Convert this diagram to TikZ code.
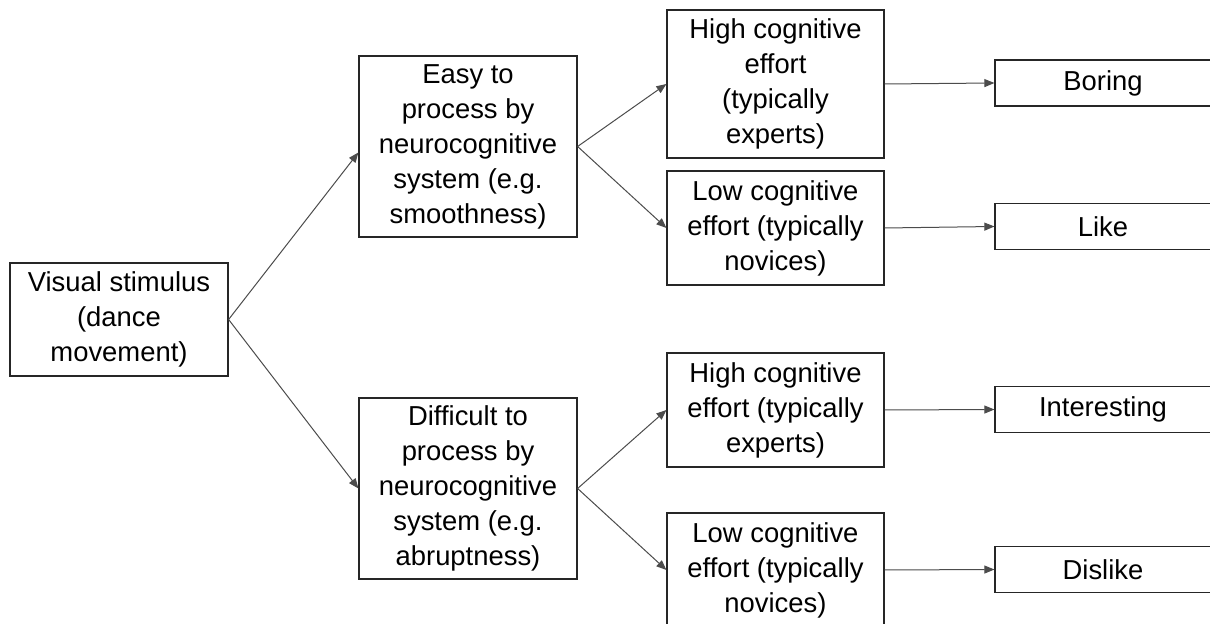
\documentclass[tikz,border=0pt]{standalone}
\usepackage{fontspec}
\setmainfont{Liberation Sans}
\usetikzlibrary{arrows.meta}
\tikzset{
    plain-box/.style = {draw=black!85, fill=white, line width=0.6pt, rectangle, align=center, inner sep=0pt,
        font=\fontsize{13.7}{17.5}\selectfont, minimum width=109pt},
    step-box/.style = {plain-box, minimum width=108.5pt, minimum height=57pt},
    end-box/.style = {plain-box, minimum width=108pt, minimum height=23pt},
    link/.style = {draw=black!70, line width=0.5pt, -{Triangle[length=5pt, width=4pt]}},
}

\begin{document}
\begin{tikzpicture}[x=0.5pt, y=-0.5pt]
\clip (0,0) rectangle (1210,624);
\fill[white] (0,0) rectangle (1210,624);

\node[plain-box, minimum height=56.5pt] (stimulus) at (119,319.5) {Visual stimulus\\(dance\\movement)};

\node[plain-box, minimum height=90.5pt] (easy) at (468,146.5) {Easy to\\process by\\neurocognitive\\system (e.g.\\smoothness)};
\node[plain-box, minimum height=90.5pt] (difficult) at (468,488.5) {Difficult to\\process by\\neurocognitive\\system (e.g.\\abruptness)};

\node[step-box, minimum height=74pt] (high-easy) at (775.5,84) {High cognitive\\effort\\(typically\\experts)};
\node[step-box] (low-easy) at (775.5,228) {Low cognitive\\effort (typically\\novices)};
\node[step-box] (high-diff) at (775.5,410) {High cognitive\\effort (typically\\experts)};
\node[step-box] (low-diff) at (775.5,570) {Low cognitive\\effort (typically\\novices)};

\node[end-box] (boring) at (1103,83) {Boring};
\node[end-box] (like) at (1103,226.5) {Like};
\node[end-box] (interesting) at (1103,409.5) {Interesting};
\node[end-box] (dislike) at (1103,569.5) {Dislike};

\draw[link] (stimulus.east) -- ([yshift=-3pt]easy.west);
\draw[link] (stimulus.east) -- (difficult.west);
\draw[link] (easy.east) -- (high-easy.west);
\draw[link] (easy.east) -- (low-easy.west);
\draw[link] (difficult.east) -- (high-diff.west);
\draw[link] (difficult.east) -- (low-diff.west);
\draw[link] (high-easy.east) -- (boring.west);
\draw[link] (low-easy.east) -- (like.west);
\draw[link] (high-diff.east) -- (interesting.west);
\draw[link] (low-diff.east) -- (dislike.west);
\end{tikzpicture}
\end{document}
